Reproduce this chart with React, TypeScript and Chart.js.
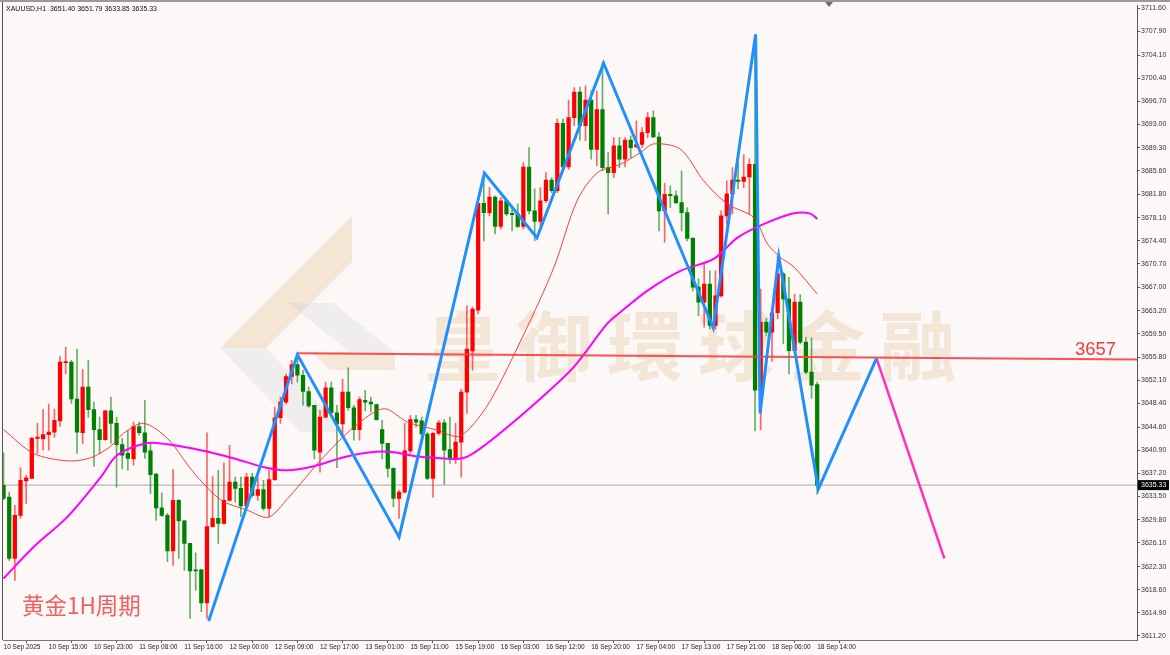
import React, { useEffect, useRef } from 'react';
import { Chart, registerables } from 'chart.js';
Chart.register(...registerables);

// ---------- DATA ----------
const symbolHeader = 'XAUUSD,H1';
const headerValues = [3651.40, 3651.79, 3633.85, 3635.33];
const lastPrice = 3635.33;

const opens = [
  3635.3, 3633.4, 3623.6, 3630.5, 3636.0, 3636.4, 3642.8, 3642.7, 3643.4, 3643.8,
  3645.6, 3654.9, 3655.0, 3649.1, 3643.7, 3651.0, 3647.4, 3644.2, 3642.6, 3647.2,
  3645.2, 3641.8, 3640.4, 3639.5, 3644.7, 3643.7, 3640.8, 3637.1, 3631.7, 3630.5,
  3624.8, 3632.9, 3629.6, 3626.0, 3621.8, 3621.8, 3616.5, 3628.7, 3630.0, 3629.2,
  3632.9, 3635.8, 3634.8, 3632.0, 3636.6, 3633.7, 3634.6, 3631.6, 3636.2, 3646.1,
  3648.6, 3652.7, 3654.6, 3652.9, 3650.3, 3648.1, 3640.6, 3646.2, 3650.9, 3646.9,
  3645.1, 3650.2, 3647.7, 3644.2, 3648.9, 3648.6, 3648.2, 3644.2, 3642.0, 3638.0,
  3633.2, 3634.2, 3640.8, 3645.8, 3645.6, 3643.5, 3636.4, 3643.6, 3645.3, 3641.0,
  3639.6, 3642.2, 3650.2, 3656.8, 3663.3, 3680.4, 3678.9, 3681.4, 3676.7, 3680.8,
  3678.8, 3678.7, 3676.7, 3686.2, 3679.2, 3677.5, 3680.8, 3684.1, 3682.4, 3693.2,
  3686.2, 3694.1, 3698.2, 3692.8, 3696.9, 3689.0, 3695.4, 3686.1, 3685.3, 3689.6,
  3687.45, 3690.5, 3689.4, 3689.8, 3691.7, 3694.1, 3691.0, 3679.2, 3681.85, 3681.6,
  3680.5, 3678.9, 3674.8, 3667.0, 3664.6, 3667.5, 3660.85, 3665.6, 3678.4, 3681.9,
  3684.1, 3683.9, 3684.6, 3686.65, 3650.5, 3661.4, 3659.8, 3662.9, 3669.1, 3665.1,
  3656.85, 3664.6, 3658.2, 3653.4, 3651.40,
];
const highs = [
  3640.5, 3634.2, 3632.1, 3638.1, 3636.9, 3643.0, 3645.2, 3647.4, 3648.3, 3647.5,
  3655.9, 3657.4, 3655.3, 3657.1, 3653.8, 3655.3, 3648.6, 3646.2, 3647.3, 3649.4,
  3646.2, 3642.8, 3644.1, 3645.4, 3645.4, 3648.9, 3642.0, 3637.2, 3634.1, 3630.8,
  3637.8, 3633.0, 3629.7, 3626.0, 3624.5, 3621.9, 3643.7, 3636.7, 3637.7, 3638.9,
  3641.7, 3636.6, 3636.6, 3637.2, 3637.2, 3636.6, 3636.1, 3637.7, 3647.8, 3649.4,
  3653.1, 3655.3, 3656.3, 3653.7, 3651.0, 3648.1, 3647.3, 3651.8, 3651.8, 3648.1,
  3652.3, 3654.1, 3648.1, 3649.4, 3650.5, 3649.4, 3648.3, 3645.7, 3642.0, 3638.1,
  3634.5, 3645.2, 3646.5, 3646.5, 3646.2, 3643.8, 3643.8, 3645.7, 3645.8, 3646.2,
  3645.2, 3650.7, 3664.0, 3663.8, 3680.5, 3685.3, 3682.9, 3681.6, 3681.3, 3681.1,
  3679.7, 3680.3, 3686.9, 3689.3, 3682.7, 3682.9, 3685.3, 3684.5, 3693.9, 3693.9,
  3696.9, 3698.9, 3699.0, 3699.2, 3698.4, 3698.4, 3703.0, 3688.5, 3690.9, 3690.9,
  3690.9, 3691.2, 3693.6, 3692.5, 3694.9, 3695.2, 3691.7, 3683.6, 3683.2, 3682.4,
  3685.6, 3679.7, 3674.9, 3668.3, 3670.7, 3669.6, 3669.6, 3679.2, 3684.0, 3686.1,
  3686.9, 3688.2, 3687.5, 3707.4, 3666.7, 3662.0, 3663.5, 3672.0, 3669.3, 3668.55,
  3665.9, 3665.8, 3658.95, 3658.9, 3651.79,
];
const lows = [
  3633.0, 3623.3, 3620.1, 3630.0, 3632.4, 3636.4, 3640.4, 3640.9, 3640.9, 3643.0,
  3644.7, 3653.1, 3648.4, 3640.4, 3642.0, 3646.2, 3638.3, 3640.4, 3642.5, 3642.0,
  3635.0, 3637.9, 3637.7, 3638.5, 3643.3, 3639.6, 3634.0, 3629.7, 3630.3, 3623.1,
  3622.5, 3623.6, 3621.7, 3614.0, 3618.5, 3615.1, 3614.0, 3628.6, 3626.0, 3629.1,
  3632.8, 3632.6, 3630.3, 3631.9, 3633.4, 3632.9, 3631.3, 3630.3, 3636.1, 3645.2,
  3648.3, 3651.5, 3651.8, 3648.1, 3647.8, 3639.5, 3637.4, 3646.1, 3646.5, 3638.1,
  3643.0, 3647.3, 3642.5, 3642.5, 3647.2, 3647.0, 3645.7, 3639.5, 3636.6, 3631.9,
  3630.0, 3634.1, 3640.4, 3644.6, 3642.5, 3636.2, 3633.4, 3643.3, 3635.5, 3638.8,
  3638.8, 3636.6, 3646.8, 3653.7, 3662.7, 3674.4, 3678.4, 3675.5, 3676.3, 3678.4,
  3676.0, 3676.5, 3676.3, 3678.7, 3674.4, 3676.8, 3680.5, 3682.1, 3682.1, 3685.9,
  3685.8, 3692.8, 3690.5, 3690.4, 3687.45, 3686.4, 3685.6, 3678.7, 3684.5, 3686.1,
  3686.2, 3687.7, 3689.3, 3689.3, 3690.9, 3690.9, 3676.0, 3674.2, 3679.7, 3680.3,
  3676.0, 3674.4, 3666.4, 3662.4, 3660.6, 3660.3, 3660.3, 3665.4, 3677.0, 3678.7,
  3682.7, 3682.9, 3678.7, 3644.0, 3644.2, 3659.2, 3655.1, 3661.9, 3657.9, 3653.1,
  3656.8, 3657.9, 3653.1, 3649.2, 3633.85,
];
const closes = [
  3633.2, 3623.6, 3630.5, 3636.1, 3636.5, 3642.8, 3643.0, 3643.4, 3643.8, 3645.7,
  3655.0, 3655.1, 3649.1, 3643.8, 3651.0, 3647.4, 3644.2, 3642.6, 3647.2, 3645.2,
  3641.8, 3640.1, 3639.6, 3644.7, 3643.7, 3640.6, 3637.0, 3631.7, 3630.5, 3624.8,
  3632.9, 3629.6, 3626.0, 3621.6, 3621.6, 3616.5, 3628.7, 3630.0, 3629.2, 3632.9,
  3635.8, 3634.8, 3632.0, 3636.6, 3633.7, 3634.6, 3631.6, 3636.2, 3646.1, 3648.6,
  3652.7, 3654.6, 3652.9, 3650.3, 3648.0, 3640.9, 3646.2, 3650.9, 3646.9, 3645.1,
  3650.2, 3647.7, 3644.2, 3649.0, 3648.6, 3648.3, 3645.8, 3642.0, 3638.0, 3633.2,
  3634.2, 3640.8, 3645.8, 3645.4, 3643.5, 3636.4, 3643.6, 3645.3, 3640.9, 3639.6,
  3642.2, 3650.2, 3657.1, 3663.5, 3680.4, 3678.9, 3681.4, 3676.7, 3680.8, 3678.7,
  3678.6, 3676.7, 3686.2, 3679.2, 3677.5, 3680.8, 3684.1, 3682.4, 3693.2, 3686.2,
  3694.1, 3698.2, 3692.8, 3696.9, 3689.0, 3695.4, 3686.1, 3685.3, 3689.6, 3687.45,
  3690.5, 3689.3, 3689.8, 3691.7, 3694.1, 3691.0, 3679.2, 3681.85, 3681.6, 3680.5,
  3678.9, 3674.8, 3667.0, 3664.6, 3667.5, 3660.85, 3665.6, 3678.4, 3681.9, 3684.1,
  3683.9, 3684.6, 3686.65, 3650.5, 3661.4, 3659.8, 3662.9, 3669.1, 3665.1, 3656.85,
  3664.6, 3658.2, 3653.4, 3651.3, 3635.33,
];

// moving averages: [bar index, price]
const maFastPts: [number, number][] = [
  [0, 3644.2], [5.3, 3640.4], [11.3, 3639.2], [15.4, 3639.7], [18.9, 3641.5], [21.2, 3643.6],
  [24.8, 3645.2], [29.0, 3642.8], [33.6, 3637.4], [38.4, 3633.0], [43.2, 3631.3], [46.9, 3630.2],
  [50.3, 3633.2], [52.6, 3635.6], [56.1, 3639.3], [62.0, 3644.6], [67.3, 3647.55], [71.5, 3645.4],
  [76.8, 3644.1], [80.3, 3643.1], [82.7, 3644.6], [86.2, 3648.9], [92.1, 3659.5], [97.4, 3670.15],
  [101.5, 3680.8], [105.1, 3685.3], [109.2, 3686.65], [112.7, 3688.5], [115.1, 3689.9],
  [119.8, 3689.05], [123.9, 3684.0], [128.1, 3680.3], [132.8, 3678.1], [135.2, 3673.9],
  [137.5, 3671.75], [139.9, 3670.2], [144, 3665.9],
];
const maSlowPts: [number, number][] = [
  [0, 3620.4], [5.4, 3625.5], [11.3, 3630.25], [17.2, 3636.6], [20.1, 3640.1], [25.4, 3642.05],
  [29.0, 3641.85], [34.9, 3640.9], [40.8, 3639.6], [46.1, 3638.2], [50.2, 3637.7], [54.9, 3638.35],
  [60.2, 3639.8], [65.0, 3640.6], [69.1, 3640.6], [73.2, 3639.9], [77.9, 3639.6], [80.3, 3639.5],
  [82.1, 3639.9], [84.4, 3641.2], [88.5, 3644.1], [95.0, 3649.15], [100.9, 3654.2], [106.8, 3661.1],
  [109.2, 3663.0], [113.9, 3666.4], [119.8, 3669.6], [125.7, 3671.5], [129.9, 3674.9],
  [134.6, 3677.1], [139.9, 3678.8], [142.8, 3678.75], [144.0, 3677.9],
];
const zigzagPts: [number, number][] = [
  [36.3, 3613.6], [52, 3656.2], [70, 3627.0], [85.1, 3685.25], [94.4, 3674.9], [106.2, 3702.8],
  [125.6, 3660.5], [133.1, 3707.4], [133.9, 3646.8], [137.2, 3671.9], [144.2, 3634.7], [154.5, 3655.6],
];
const projectionPts: [number, number][] = [[154.5, 3655.6], [166.5, 3623.6]];
const levelLinePts: [number, number][] = [[52, 3656.4], [200.7, 3655.4]];
const levelLabel = '3657';
const periodLabel = '黄金1H周期';
const watermarkText = '皇御環球金融';

const yTickValues = [
  3711.6, 3707.9, 3704.1, 3700.4, 3696.7, 3693.0, 3689.3, 3685.6, 3681.8, 3678.1, 3674.4,
  3670.7, 3667.0, 3663.2, 3659.5, 3655.8, 3652.1, 3648.4, 3644.6, 3640.9, 3637.2, 3633.5,
  3629.8, 3626.1, 3622.3, 3618.6, 3614.9, 3611.2,
];
const xTickBars = [0, 8, 16, 24, 32, 40, 48, 56, 64, 72, 80, 88, 96, 104, 112, 120, 128, 136, 144];
const xTickLabels = [
  '10 Sep 2025', '10 Sep 15:00', '10 Sep 23:00', '11 Sep 08:00', '11 Sep 16:00', '12 Sep 00:00',
  '12 Sep 09:00', '12 Sep 17:00', '13 Sep 01:00', '15 Sep 11:00', '15 Sep 19:00', '16 Sep 03:00',
  '16 Sep 12:00', '16 Sep 20:00', '17 Sep 04:00', '17 Sep 13:00', '17 Sep 21:00', '18 Sep 06:00',
  '18 Sep 14:00',
];

// ---------- STYLE ----------
const BG = '#fcf8f7';
const UP = '#ff0000';
const DOWN = '#008000';
const UP_WICK = 'rgba(255,0,0,0.6)';
const DOWN_WICK = 'rgba(0,128,0,0.6)';

const decorPlugin = {
  id: 'decor',
  beforeDraw(chart: any) {
    const { ctx, width, height } = chart;
    ctx.save();
    ctx.fillStyle = BG;
    ctx.fillRect(0, 0, width, height);
    ctx.restore();
  },
  beforeDatasetsDraw(chart: any) {
    const { ctx, chartArea: a } = chart;
    ctx.save();
    ctx.beginPath();
    ctx.rect(a.left, a.top, a.right - a.left, a.bottom - a.top);
    ctx.clip();
    const poly = (pts: number[][], color: string) => {
      ctx.beginPath();
      pts.forEach((p, i) => (i ? ctx.lineTo(p[0], p[1]) : ctx.moveTo(p[0], p[1])));
      ctx.closePath();
      ctx.fillStyle = color;
      ctx.fill();
    };
    poly([[352, 216], [352, 262], [266, 348], [220, 348]], 'rgba(228,196,150,0.35)');
    poly([[220, 348], [266, 348], [346, 432], [300, 432]], 'rgba(200,200,210,0.22)');
    poly([[288, 303], [333, 303], [395, 352], [350, 352]], 'rgba(200,200,210,0.22)');
    poly([[312, 352], [395, 352], [395, 370], [330, 370]], 'rgba(228,196,150,0.3)');
    ctx.font = 'bold 76px "Noto Sans CJK TC"';
    ctx.fillStyle = 'rgba(225,190,140,0.3)';
    ctx.textAlign = 'center';
    ctx.textBaseline = 'middle';
    Array.from(watermarkText).forEach((ch, i) => ctx.fillText(ch, 463 + 91 * i, 346));
    ctx.restore();
  },
  afterDraw(chart: any) {
    const { ctx, chartArea: a, scales } = chart;
    const y = scales.y;
    ctx.save();
    // frame
    ctx.fillStyle = '#9a9a9a';
    ctx.fillRect(0, 0, chart.width, 2);
    ctx.fillStyle = '#555';
    ctx.fillRect(2, 2, 1, a.bottom - 2);
    // shift marker
    ctx.fillStyle = '#6a7080';
    ctx.beginPath();
    ctx.moveTo(825, 2);
    ctx.lineTo(833, 2);
    ctx.lineTo(829, 7);
    ctx.closePath();
    ctx.fill();
    // header
    ctx.font = '7px "Liberation Sans"';
    ctx.fillStyle = '#111';
    ctx.textAlign = 'left';
    ctx.textBaseline = 'middle';
    ctx.fillText(symbolHeader + '  ' + headerValues.map((v) => v.toFixed(2)).join(' '), 6, 9);
    // level label
    const ly = y.getPixelForValue(levelLinePts[1][1]);
    ctx.font = '18.5px "Liberation Sans"';
    ctx.fillStyle = '#f03c3c';
    ctx.textBaseline = 'alphabetic';
    ctx.fillText(levelLabel, 1075, ly - 5);
    // period label
    ctx.font = '22.5px "Noto Sans CJK SC"';
    ctx.fillStyle = 'rgba(240,80,80,0.92)';
    ctx.fillText(periodLabel, 22, 614);
    // price tag
    const py = y.getPixelForValue(lastPrice);
    ctx.fillStyle = '#000';
    ctx.fillRect(a.right + 1, py - 5, 31, 10);
    ctx.fillStyle = '#fff';
    ctx.font = '7px "Liberation Sans"';
    ctx.textBaseline = 'middle';
    ctx.fillText(lastPrice.toFixed(2), a.right + 4, py);
    ctx.restore();
  },
};

function lineDs(pts: [number, number][], color: string, width: number, order: number, tension = 0) {
  return {
    type: 'line' as const,
    data: pts.map(([x, v]) => ({ x, y: v })),
    borderColor: color,
    borderWidth: width,
    pointRadius: 0,
    tension,
    order,
    fill: false,
  };
}

export default function App() {
  const ref = useRef<HTMLCanvasElement | null>(null);
  useEffect(() => {
    if (!ref.current) return;
    const up = opens.map((o, i) => closes[i] >= o);
    const chart = new Chart(ref.current, {
      type: 'bar',
      data: {
        datasets: [
          {
            type: 'line',
            data: [{ x: -1, y: lastPrice }, { x: 202, y: lastPrice }],
            borderColor: '#a8a8a8',
            borderWidth: 1,
            pointRadius: 0,
            order: 20,
          } as any,
          {
            type: 'bar',
            data: opens.map((o, i) => ({ x: i, y: [lows[i], highs[i]] })),
            backgroundColor: up.map((u) => (u ? UP_WICK : DOWN_WICK)),
            barThickness: 1,
            grouped: false,
            borderWidth: 0,
            order: 12,
          } as any,
          {
            type: 'bar',
            data: opens.map((o, i) => ({ x: i, y: [o, closes[i]] })),
            backgroundColor: up.map((u) => (u ? UP : DOWN)),
            barThickness: 3.6,
            grouped: false,
            minBarLength: 1,
            borderWidth: 0,
            order: 11,
          } as any,
          lineDs(maFastPts, 'rgba(255,40,40,0.9)', 1, 6, 0.3) as any,
          lineDs(maSlowPts, '#ff00ff', 2, 5, 0.3) as any,
          lineDs(levelLinePts, 'rgba(255,60,60,0.9)', 2, 4) as any,
          lineDs(zigzagPts, '#2090ff', 3, 1) as any,
          lineDs(projectionPts, '#ff30c0', 2.5, 1) as any,
        ],
      },
      options: {
        responsive: false,
        animation: false,
        events: [],
        layout: { padding: { left: 3, top: 4, right: 0, bottom: 0 } },
        plugins: { legend: { display: false }, tooltip: { enabled: false }, title: { display: false } },
        scales: {
          x: {
            type: 'linear',
            min: -0.1,
            max: 200.6,
            offset: false,
            position: 'bottom',
            grid: { display: true, drawOnChartArea: false, drawTicks: true, tickLength: 3, color: '#555' },
            border: { display: true, color: '#777', width: 1 },
            afterBuildTicks: (s: any) => {
              s.ticks = xTickBars.map((v) => ({ value: v }));
            },
            afterFit: (s: any) => {
              s.height = 15;
            },
            ticks: {
              autoSkip: false,
              maxRotation: 0,
              minRotation: 0,
              align: 'start',
              padding: 0,
              color: '#222',
              font: { size: 6.5, family: '"Liberation Sans"' },
              callback: (v: any) => {
                const k = xTickBars.indexOf(Number(v));
                return k >= 0 ? xTickLabels[k] : '';
              },
            },
          },
          y: {
            position: 'right',
            min: 3610.56,
            max: 3712.08,
            grid: { display: true, drawOnChartArea: false, drawTicks: true, tickLength: 3, color: '#555' },
            border: { display: true, color: '#555', width: 1 },
            afterBuildTicks: (s: any) => {
              s.ticks = yTickValues.map((v) => ({ value: v }));
            },
            afterFit: (s: any) => {
              s.width = 33;
            },
            ticks: {
              autoSkip: false,
              padding: 1,
              color: '#333',
              font: { size: 7, family: '"Liberation Sans"' },
              callback: (v: any) => Number(v).toFixed(2),
            },
          },
        },
      } as any,
      plugins: [decorPlugin],
    });
    return () => chart.destroy();
  }, []);
  return (
    <div style={{ position: 'fixed', left: 0, top: 0, width: 1170, height: 655, background: BG }}>
      <canvas ref={ref} width={1170} height={655} style={{ display: 'block' }} />
    </div>
  );
}
